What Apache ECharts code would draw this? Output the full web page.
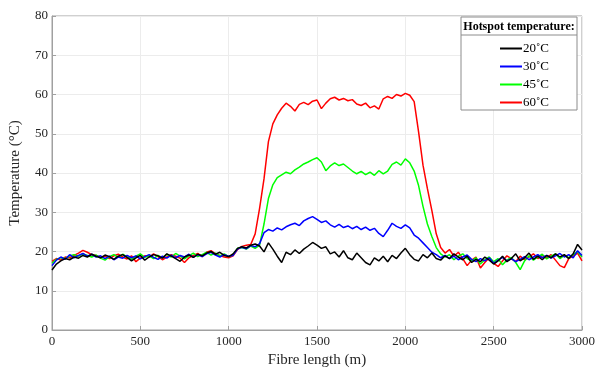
<!DOCTYPE html>
<html>
<head>
<meta charset="utf-8">
<script src="https://cdn.jsdelivr.net/npm/echarts@6/dist/echarts.min.js"></script>
<style>
  html, body { margin: 0; padding: 0; background: #fff; }
  #chart { width: 596px; height: 370px; }
</style>
</head>
<body>
<div id="chart"></div>
<script>
// fibre length sampled every 25 m, 0..3000
const fibreLength = [];
for (let m = 0; m <= 3000; m += 25) fibreLength.push(m);

const xTicks = [0, 500, 1000, 1500, 2000, 2500, 3000];
const yTicks = [0, 10, 20, 30, 40, 50, 60, 70, 80];

const names = ['20˚C', '30˚C', '45˚C', '60˚C'];

const temp20 = [
  15.3, 16.8, 17.6, 18.2, 17.9, 18.6, 18.3, 19.0, 18.6, 19.3, 18.8, 18.4, 19.1, 18.7, 18.0, 18.8, 19.2, 18.5, 17.6, 18.4,
  19.0, 17.8, 18.6, 19.2, 18.9, 18.3, 19.4, 18.8, 18.2, 17.5, 18.6, 19.1, 18.5, 19.3, 18.9, 19.6, 20.0, 19.3, 19.8, 19.0,
  18.7, 19.4, 20.8, 21.2, 20.9, 21.6, 21.9, 21.4, 19.9, 22.2, 20.6, 18.8, 17.2, 19.8, 19.2, 20.4, 19.5, 20.6, 21.4, 22.3,
  21.6, 20.8, 21.2, 19.4, 19.9, 18.6, 20.2, 18.4, 17.9, 19.6, 18.4, 17.2, 16.6, 18.4, 17.6, 18.8, 17.4, 19.0, 18.2, 19.6,
  20.8, 19.2, 18.0, 17.6, 19.2, 18.4, 19.6, 18.2, 17.8, 18.9, 18.2, 19.4, 18.6, 17.9, 18.8, 17.2, 18.0, 17.4, 18.6, 17.8,
  16.8, 17.6, 18.8, 17.4, 18.2, 19.4, 17.6, 18.4, 19.6, 18.0, 18.8, 17.9, 19.0, 18.4, 19.4, 18.6, 19.2, 18.2, 19.4, 21.8,
  20.4
];
const temp30 = [
  16.4, 17.8, 18.6, 18.0, 19.2, 18.4, 19.0, 19.5, 18.8, 19.3, 18.6, 18.9, 18.2, 18.8, 17.9, 18.6, 18.3, 19.0, 18.4, 18.9,
  18.1, 18.7, 19.2, 18.5, 18.0, 18.8, 18.3, 19.1, 18.4, 19.0, 18.6, 19.3, 18.5, 19.2, 18.7, 19.4, 19.8, 19.1, 18.6, 19.2,
  18.8, 19.0, 20.6, 21.1, 20.7, 21.5, 21.2, 22.0, 24.8, 25.6, 25.2, 26.0, 25.5, 26.3, 26.8, 27.2, 26.6, 27.8, 28.4, 28.9,
  28.2, 27.4, 27.8, 26.8, 26.2, 26.9, 26.1, 26.5, 25.8, 26.4, 25.6, 26.2, 25.4, 25.9, 24.6, 23.8, 25.4, 27.2, 26.4, 25.9,
  26.8, 26.0, 24.2, 23.4, 22.2, 21.0, 19.8, 19.2, 18.4, 19.0, 18.2, 18.8, 17.9, 18.6, 19.1, 18.0, 17.4, 18.2, 17.6, 18.4,
  17.0, 17.8, 18.5, 17.6, 18.2, 17.4, 18.0, 18.7, 17.9, 18.6, 19.2, 18.4, 19.0, 18.3, 18.9, 19.5, 18.6, 19.2, 18.4, 20.2,
  19.0
];
const temp45 = [
  17.0, 18.0, 18.4, 18.2, 18.9, 19.2, 18.8, 19.4, 19.0, 18.6, 19.1, 18.3, 17.8, 18.7, 19.2, 18.5, 19.3, 18.6, 18.0, 18.8,
  19.4, 18.5, 18.9, 18.2, 19.0, 18.4, 19.3, 18.6, 19.5, 18.8, 18.1, 18.9, 19.6, 18.7, 19.2, 19.8, 19.1, 19.6, 18.9, 19.4,
  18.7, 19.2, 20.8, 21.0, 20.6, 21.4, 20.8, 21.6, 27.0, 33.5, 37.0, 38.8, 39.5, 40.2, 39.8, 40.8, 41.5, 42.3, 42.8, 43.4,
  43.9, 42.8, 40.6, 41.8, 42.6, 41.9, 42.3, 41.4, 40.5, 39.8, 40.4, 39.6, 40.2, 39.4, 40.6, 39.8, 40.5, 42.2, 42.8, 42.0,
  43.6, 42.6, 40.5, 36.8, 31.5, 27.0, 23.8, 21.0, 19.4, 18.6, 19.2, 17.9, 18.8, 19.4, 18.2, 17.6, 18.4, 16.8, 17.9, 18.6,
  17.4, 18.2, 16.6, 17.8, 18.5, 17.2, 15.4, 17.6, 18.9, 17.8, 18.6, 19.3, 18.1, 18.8, 19.4, 18.2, 19.0, 18.4, 19.2, 20.0,
  18.6
];
const temp60 = [
  17.5, 18.2, 17.8, 18.6, 18.4, 19.0, 19.6, 20.3, 19.8, 19.2, 19.0, 18.4, 18.8, 18.2, 18.9, 19.3, 18.6, 18.1, 18.9, 17.4,
  18.3, 18.9, 18.6, 19.4, 18.7, 17.9, 18.6, 19.2, 18.8, 18.3, 17.2, 18.4, 19.0, 19.5, 18.7, 19.8, 20.2, 19.4, 19.0, 18.6,
  18.4, 18.9, 20.5, 21.3, 21.6, 21.8, 24.5, 31.0, 38.5, 48.0, 52.5, 54.8, 56.5, 57.8, 57.0, 55.8, 57.5, 58.0, 57.4, 58.3,
  58.6, 56.4, 57.8, 58.9, 59.3, 58.6, 59.0, 58.4, 58.7, 57.6, 57.2, 57.8, 56.6, 57.1, 56.3, 58.9, 59.5, 59.0, 60.0, 59.6,
  60.3, 59.8, 58.2, 50.5, 42.0, 36.0, 30.5, 24.5, 21.0, 19.6, 20.5, 18.8, 19.8, 18.2, 16.4, 17.8, 18.6, 15.8, 17.2, 18.4,
  17.0, 16.2, 17.6, 18.9, 18.2, 17.4, 18.8, 17.9, 18.6, 19.4, 18.2, 19.0, 18.4, 19.2, 17.8, 16.4, 15.9, 18.2, 18.8, 19.6,
  17.6
];

const colors = {'20˚C': '#000000', '30˚C': '#0000ff', '45˚C': '#00ff00', '60˚C': '#ff0000'};
const serif = 'Liberation Serif';

function pairs(vals) {
  return fibreLength.map((m, i) => [m, vals[i]]);
}

function line(name, vals) {
  return {
    name: name,
    type: 'line',
    data: pairs(vals),
    showSymbol: false,
    lineStyle: {color: colors[name], width: 1.5},
    itemStyle: {color: colors[name]},
  };
}

const chart = echarts.init(document.getElementById('chart'), null, {renderer: 'canvas'});

chart.setOption({
  animation: false,
  grid: {
    left: 52, right: 14, top: 16, bottom: 40,
    outerBoundsMode: 'none',
    show: true, borderColor: '#a0a0a0', borderWidth: 1,
  },
  xAxis: {
    type: 'value',
    min: 0, max: 3000, interval: 500,
    name: 'Fibre length (m)',
    nameLocation: 'middle',
    nameGap: 22,
    nameTextStyle: {fontFamily: serif, fontSize: 15, color: '#262626'},
    axisLine: {show: true, onZero: false, lineStyle: {color: '#a0a0a0'}},
    axisTick: {show: true, inside: true, length: 4, lineStyle: {color: '#a0a0a0'}},
    axisLabel: {fontFamily: serif, fontSize: 13, color: '#262626', margin: 5,
      formatter: v => xTicks.includes(v) ? String(v) : ''},
    splitLine: {show: true, lineStyle: {color: '#ececec'}},
  },
  yAxis: {
    type: 'value',
    min: 0, max: 80, interval: 10,
    name: 'Temperature (°C)',
    nameLocation: 'middle',
    nameGap: 29,
    nameTextStyle: {fontFamily: serif, fontSize: 15, color: '#262626'},
    axisLine: {show: true, lineStyle: {color: '#a0a0a0'}},
    axisTick: {show: true, inside: true, length: 4, lineStyle: {color: '#a0a0a0'}},
    axisLabel: {fontFamily: serif, fontSize: 13, color: '#262626', margin: 4,
      formatter: v => yTicks.includes(v) ? String(v) : ''},
    splitLine: {show: true, lineStyle: {color: '#ececec'}},
  },
  legend: {
    data: names,
    z: 100,
    orient: 'vertical',
    left: 495, top: 37,
    itemGap: 5,
    itemWidth: 22, itemHeight: 2,
    icon: 'rect',
    textStyle: {fontFamily: serif, fontSize: 13, color: '#000', padding: [0, 0, 0, -4]},
  },
  graphic: [
    {
      type: 'rect', z: 90,
      shape: {x: 461, y: 17, width: 116, height: 93},
      style: {fill: '#fff', stroke: '#8c8c8c', lineWidth: 1},
    },
    {
      type: 'line', z: 91,
      shape: {x1: 461, y1: 35, x2: 577, y2: 35},
      style: {stroke: '#8c8c8c', lineWidth: 1},
    },
    {
      type: 'text', z: 91,
      x: 519, y: 27,
      style: {text: 'Hotspot temperature:', fontFamily: serif, fontSize: 12, fontWeight: 'bold',
        fill: '#000', align: 'center', verticalAlign: 'middle'},
    },
  ],
  series: [
    line('60˚C', temp60),
    line('45˚C', temp45),
    line('30˚C', temp30),
    line('20˚C', temp20),
  ],
});
</script>
</body>
</html>
